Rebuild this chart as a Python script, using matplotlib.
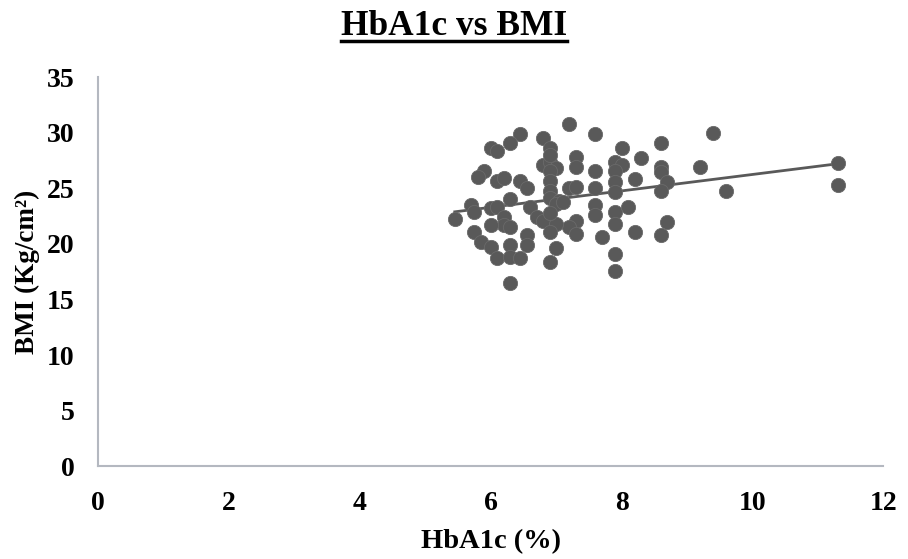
import numpy as np
import matplotlib.pyplot as plt
from matplotlib.lines import Line2D

# HbA1c (%) and BMI values
hba1c = [7.2, 7.6, 6.45, 6.8, 6.3, 6.0, 6.1, 6.9, 8.0, 8.3,
         7.3, 7.3, 7.9, 8.0, 7.9, 6.8, 6.9, 7.0, 6.9, 7.6,
         5.9, 5.8, 6.1, 6.2, 6.45, 6.55, 6.9, 8.2, 7.9, 7.2,
         7.3, 7.6, 7.9, 6.9, 6.9, 6.3, 7.05, 7.0, 5.7, 5.75,
         5.45, 6.0, 6.1, 6.6, 7.6, 7.6, 7.9, 7.9, 8.1, 6.7,
         6.8, 6.2, 6.2, 6.0, 6.3, 7.3, 7.2, 7.3, 7.0, 6.9,
         8.2, 7.7, 6.55, 6.55, 5.75, 5.85, 6.0, 6.3, 7.0, 7.9,
         6.1, 6.3, 6.45, 6.9, 7.9, 6.3, 9.4, 8.6, 8.6, 8.6,
         9.2, 8.7, 8.6, 9.6, 11.3, 11.3, 8.7, 8.6, 6.9, 6.9,
         7.1]
bmi = [30.8, 29.9, 29.9, 29.5, 29.1, 28.6, 28.4, 28.6, 28.6, 27.7,
       27.8, 26.9, 27.4, 27.1, 26.6, 27.1, 27.4, 26.8, 26.6, 26.6,
       26.6, 26.0, 25.7, 25.9, 25.7, 25.0, 25.7, 25.8, 25.6, 25.0,
       25.1, 25.0, 24.7, 24.8, 24.1, 24.0, 23.9, 23.6, 23.5, 22.9,
       22.2, 23.2, 23.3, 23.3, 23.5, 22.6, 22.9, 21.8, 23.3, 22.4,
       22.1, 22.4, 21.7, 21.7, 21.5, 22.1, 21.5, 20.9, 21.8, 21.1,
       21.1, 20.6, 20.8, 19.9, 21.1, 20.2, 19.7, 19.9, 19.6, 19.1,
       18.7, 18.8, 18.7, 18.4, 17.6, 16.5, 30.0, 29.1, 26.9, 26.5,
       26.9, 25.6, 24.8, 24.8, 27.3, 25.3, 22.0, 20.8, 28.0, 22.8,
       23.8]

x_ticks = [0, 2, 4, 6, 8, 10, 12]
y_ticks = [0, 5, 10, 15, 20, 25, 30, 35]

plt.rcParams['font.family'] = ['Liberation Serif', 'DejaVu Serif']
plt.rcParams['font.weight'] = 'bold'

fig = plt.figure(figsize=(9.08, 5.59), dpi=100)
ax = fig.add_axes([0.108, 0.166, 0.865, 0.696])

ax.scatter(hba1c, bmi, s=105, color='#595959', edgecolors='#6a6a6a',
           linewidths=0.6, zorder=3)

# linear trendline
k, b = np.polyfit(hba1c, bmi, 1)
xs = np.array([min(hba1c), max(hba1c)])
ax.plot(xs, k * xs + b, color='#595959', linewidth=2, zorder=2)

ax.set_xlim(0, 12)
ax.set_ylim(0, 35)
ax.set_xticks(x_ticks)
ax.set_yticks(y_ticks)
ax.tick_params(length=0, labelsize=20, pad=17)
ax.tick_params(axis='x', pad=18)
for lab in ax.get_xticklabels() + ax.get_yticklabels():
    lab.set_fontweight('bold')

for side in ['top', 'right']:
    ax.spines[side].set_visible(False)
for side in ['left', 'bottom']:
    ax.spines[side].set_color('#b4b8c0')
    ax.spines[side].set_linewidth(1.5)

ax.set_xlabel('HbA1c (%)', fontsize=20.5, fontweight='bold', labelpad=9)
ax.set_ylabel('BMI (Kg/cm²)', fontsize=19.5, fontweight='bold', labelpad=5)

title = fig.text(0.5, 0.952, 'HbA1c vs BMI', ha='center', va='center',
                 fontsize=25.5, fontweight='bold')

# underline the title
fig.canvas.draw()
bb = title.get_window_extent().transformed(fig.transFigure.inverted())
fig.add_artist(Line2D([bb.x0, bb.x1], [bb.y0 + 0.004, bb.y0 + 0.004],
                      color='black', linewidth=2.5))

plt.savefig('out.png', dpi=100)
